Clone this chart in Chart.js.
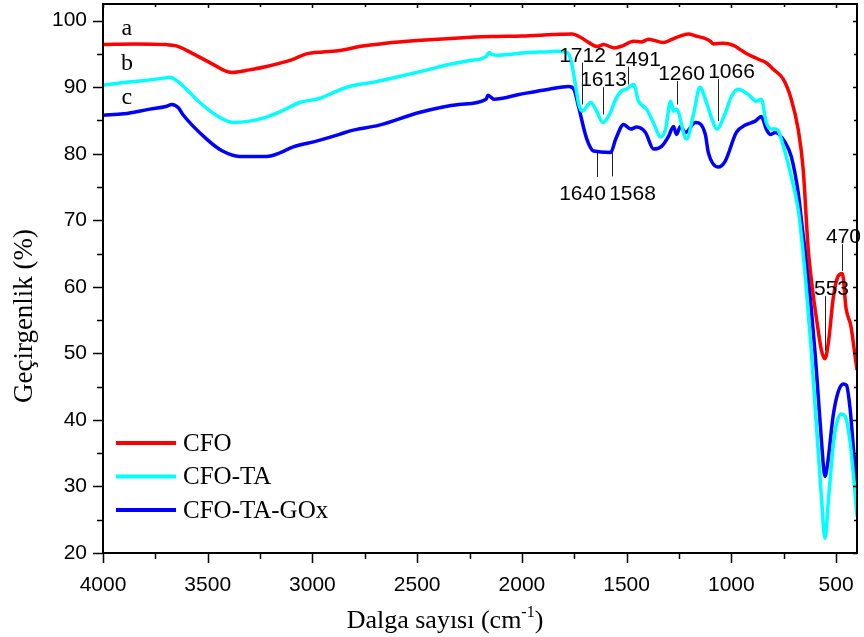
<!DOCTYPE html>
<html>
<head>
<meta charset="utf-8">
<script src="https://cdn.jsdelivr.net/npm/chart.js@4.4.0/dist/chart.umd.min.js"></script>
<style>
  html, body { margin: 0; padding: 0; background: #fff; }
  #wrap { width: 864px; height: 637px; }
</style>
</head>
<body>
<div id="wrap"><canvas id="ftir" width="864" height="637"></canvas></div>
<script>
// series names + colours
const seriesNames = ['CFO', 'CFO-TA', 'CFO-TA-GOx'];
const seriesColors = ['#ff0000', '#00ffff', '#0000ff'];
const curveTags = ['a', 'b', 'c'];

// CFO (a)
const cfoWn = [4000, 3850, 3700, 3650, 3580, 3490, 3386, 3300, 3219, 3100, 3029, 2950, 2870, 2776, 2650, 2500, 2300, 2150, 2000, 1850, 1760, 1720, 1680, 1640, 1610, 1560, 1520, 1467, 1430, 1395, 1324, 1290, 1252, 1205, 1170, 1133, 1100, 1086, 1040, 990, 950, 919, 871, 830, 800, 752, 714, 681, 657, 633, 610, 590, 570, 553, 535, 514, 490, 470, 452, 429, 415, 400];
const cfoT = [96.4, 96.5, 96.4, 96.2, 95.2, 93.7, 92.2, 92.6, 93.1, 94.1, 95.0, 95.3, 95.5, 96.1, 96.6, 97.0, 97.4, 97.6, 97.7, 97.9, 98.0, 97.5, 96.7, 96.1, 96.4, 95.9, 96.2, 96.9, 96.8, 97.2, 96.7, 97.1, 97.6, 98.0, 97.7, 97.4, 96.9, 96.5, 96.6, 96.3, 95.5, 94.9, 94.2, 93.6, 92.7, 91.2, 88.2, 83.7, 77.7, 65.7, 59.0, 54.5, 50.5, 49.2, 52.0, 58.2, 61.6, 62.0, 56.7, 54.1, 51.0, 47.5];

// CFO-TA (b)
const taWn = [4000, 3900, 3800, 3700, 3681, 3640, 3538, 3450, 3381, 3300, 3219, 3140, 3062, 2967, 2900, 2824, 2700, 2586, 2450, 2348, 2250, 2171, 2157, 2140, 2110, 2040, 1967, 1900, 1824, 1780, 1762, 1740, 1729, 1712, 1671, 1645, 1613, 1580, 1552, 1525, 1500, 1467, 1443, 1405, 1370, 1338, 1314, 1290, 1276, 1262, 1214, 1180, 1150, 1120, 1090, 1070, 1030, 1000, 967, 919, 881, 857, 833, 810, 786, 743, 714, 681, 660, 648, 630, 619, 600, 586, 570, 553, 535, 514, 500, 476, 457, 433, 415, 400];
const taT = [90.3, 90.7, 91.0, 91.4, 91.5, 90.8, 87.7, 85.6, 84.7, 84.9, 85.5, 86.5, 87.7, 88.3, 89.2, 90.1, 90.8, 91.6, 92.6, 93.4, 94.0, 94.6, 95.2, 94.9, 94.8, 95.0, 95.2, 95.3, 95.4, 95.1, 93.5, 89.5, 87.5, 86.4, 87.7, 86.5, 84.7, 86.0, 88.2, 89.4, 89.7, 90.4, 87.9, 86.7, 84.5, 82.5, 83.7, 87.9, 86.4, 86.7, 82.2, 86.0, 90.0, 87.8, 85.0, 83.7, 86.0, 88.6, 89.7, 88.9, 87.9, 88.2, 84.7, 83.7, 83.7, 80.2, 76.6, 71.7, 66.0, 62.0, 55.0, 50.7, 42.0, 35.7, 28.5, 22.2, 28.5, 36.0, 39.1, 40.9, 40.6, 36.7, 31.0, 25.5];

// CFO-TA-GOx (c)
const goxWn = [4000, 3900, 3776, 3700, 3671, 3640, 3619, 3505, 3429, 3348, 3219, 3150, 3095, 2981, 2871, 2824, 2681, 2490, 2300, 2171, 2162, 2133, 2014, 1871, 1776, 1752, 1729, 1690, 1657, 1576, 1552, 1514, 1481, 1452, 1410, 1371, 1333, 1300, 1276, 1262, 1243, 1219, 1171, 1124, 1110, 1062, 1029, 976, 933, 886, 857, 833, 814, 790, 743, 714, 681, 660, 640, 619, 600, 586, 570, 553, 540, 514, 490, 465, 450, 433, 415, 400];
const goxT = [85.8, 86.0, 86.7, 87.1, 87.4, 86.9, 85.9, 82.2, 80.4, 79.6, 79.6, 80.2, 81.0, 81.9, 82.9, 83.4, 84.3, 86.2, 87.4, 88.2, 88.8, 88.2, 88.9, 89.7, 90.1, 89.7, 87.0, 82.2, 80.4, 80.2, 82.2, 84.4, 83.7, 84.0, 83.2, 80.7, 81.1, 82.6, 84.1, 82.9, 84.1, 83.2, 84.7, 82.9, 80.2, 78.0, 78.9, 83.2, 84.3, 84.9, 85.6, 83.7, 82.9, 83.2, 81.7, 79.6, 74.2, 68.5, 63.5, 57.0, 50.0, 44.0, 37.0, 31.5, 33.5, 40.6, 44.2, 45.4, 45.2, 41.7, 35.0, 30.5];

// axes
const xTicks = [4000, 3500, 3000, 2500, 2000, 1500, 1000, 500];
const yTicks = [20, 30, 40, 50, 60, 70, 80, 90, 100];

// peak labels: text, wavenumber, leader top / bottom (in %T), text above or below, text shift px
const peaks = [
  { t: '1712', wn: 1712, y1: 93.7, y2: 87.4, pos: 'above', dx: 0 },
  { t: '1613', wn: 1613, y1: 90.0, y2: 85.9, pos: 'above', dx: 0 },
  { t: '1491', wn: 1491, y1: 93.1, y2: 90.4, pos: 'above', dx: 9 },
  { t: '1260', wn: 1260, y1: 90.9, y2: 87.4, pos: 'above', dx: 4 },
  { t: '1066', wn: 1066, y1: 91.2, y2: 84.9, pos: 'above', dx: 13 },
  { t: '1640', wn: 1640, y1: 80.2, y2: 76.5, pos: 'below', dx: -15 },
  { t: '1568', wn: 1568, y1: 80.2, y2: 76.6, pos: 'below', dx: 20 },
  { t: '470', wn: 470, y1: 66.4, y2: 62.4, pos: 'above', dx: 1 },
  { t: '553', wn: 553, y1: 58.6, y2: 50.4, pos: 'above', dx: 6 }
];
const tagWn = 3886;
const tagVal = [97.9, 92.65, 87.4];

function pairs(wn, v) {
  return wn.map((w, i) => ({ x: w, y: v[i] }));
}

// no extra label padding, the plot box is fixed by the axis sizes
function fixBox(s, size) {
  if (s.isHorizontal()) s.height = size; else s.width = size;
  s.paddingTop = 0; s.paddingBottom = 0; s.paddingLeft = 0; s.paddingRight = 0;
}

const decor = {
  id: 'decor',
  afterDatasetsDraw(chart) {
    const { ctx, chartArea: a, scales: { x, y } } = chart;
    ctx.save();
    ctx.strokeStyle = '#000';
    ctx.fillStyle = '#000';

    // frame
    ctx.lineWidth = 2;
    ctx.strokeRect(a.left, a.top, a.right - a.left, a.bottom - a.top);

    // tick marks (major + minor)
    ctx.lineWidth = 1.5;
    ctx.beginPath();
    for (let v = 4000; v >= 400; v -= 250) {
      const px = Math.round(x.getPixelForValue(v)) + 0.5;
      const major = v % 500 === 0;
      ctx.moveTo(px, a.bottom); ctx.lineTo(px, a.bottom + (major ? 10 : 6));
      ctx.moveTo(px, a.top); ctx.lineTo(px, a.top + (major ? 4 : 3));
    }
    for (let v = 20; v <= 100; v += 5) {
      const py = Math.round(y.getPixelForValue(v)) + 0.5;
      const major = v % 10 === 0;
      ctx.moveTo(a.left, py); ctx.lineTo(a.left - (major ? 10 : 6), py);
      ctx.moveTo(a.right, py); ctx.lineTo(a.right - (major ? 4 : 3), py);
    }
    ctx.stroke();

    // peak labels
    ctx.font = '21px "Liberation Sans", Arial, sans-serif';
    ctx.textAlign = 'center';
    ctx.lineWidth = 1;
    ctx.strokeStyle = '#222';
    peaks.forEach(p => {
      const px = Math.round(x.getPixelForValue(p.wn)) + 0.5;
      const p1 = y.getPixelForValue(p.y1);
      const p2 = y.getPixelForValue(p.y2);
      ctx.beginPath(); ctx.moveTo(px, p1); ctx.lineTo(px, p2); ctx.stroke();
      if (p.pos === 'above') {
        ctx.textBaseline = 'alphabetic';
        ctx.fillText(p.t, px + p.dx, p1 - 1);
      } else {
        ctx.textBaseline = 'top';
        ctx.fillText(p.t, px + p.dx, p2 + 7);
      }
    });

    // curve tags a, b, c
    ctx.font = '24px "Liberation Serif", "Times New Roman", serif';
    ctx.textBaseline = 'alphabetic';
    curveTags.forEach((t, i) => {
      ctx.fillText(t, x.getPixelForValue(tagWn), y.getPixelForValue(tagVal[i]));
    });

    // legend
    ctx.font = '25px "Liberation Serif", "Times New Roman", serif';
    ctx.textAlign = 'left';
    ctx.textBaseline = 'middle';
    seriesNames.forEach((n, i) => {
      const ly = 443 + i * 33.5;
      ctx.strokeStyle = seriesColors[i];
      ctx.lineWidth = 4;
      ctx.beginPath(); ctx.moveTo(a.left + 13, ly); ctx.lineTo(a.left + 73, ly); ctx.stroke();
      ctx.fillText(n, a.left + 80, ly + 1);
    });

    // axis titles
    const big = '26px "Liberation Serif", "Times New Roman", serif';
    const sup = '16px "Liberation Serif", serif';
    ctx.font = big;
    ctx.textBaseline = 'alphabetic';
    const main = 'Dalga sayısı (cm';
    const w1 = ctx.measureText(main).width;
    ctx.font = sup;
    const w2 = ctx.measureText('-1').width;
    ctx.font = big;
    const w3 = ctx.measureText(')').width;
    const tx = 445 - (w1 + w2 + w3) / 2;
    const ty = 628;
    ctx.fillText(main, tx, ty);
    ctx.font = sup;
    ctx.fillText('-1', tx + w1, ty - 11);
    ctx.font = big;
    ctx.fillText(')', tx + w1 + w2, ty);

    ctx.font = '27px "Liberation Serif", "Times New Roman", serif';
    ctx.translate(32, 316);
    ctx.rotate(-Math.PI / 2);
    ctx.textAlign = 'center';
    ctx.fillText('Geçirgenlik (%)', 0, 0);
    ctx.restore();
  }
};

new Chart(document.getElementById('ftir'), {
  type: 'line',
  data: {
    datasets: [
      { label: seriesNames[0], data: pairs(cfoWn, cfoT), borderColor: seriesColors[0] },
      { label: seriesNames[1], data: pairs(taWn, taT), borderColor: seriesColors[1] },
      { label: seriesNames[2], data: pairs(goxWn, goxT), borderColor: seriesColors[2] }
    ]
  },
  options: {
    responsive: false,
    animation: false,
    devicePixelRatio: 1,
    layout: { padding: { top: 4, right: 7, left: 0, bottom: 0 } },
    elements: {
      point: { radius: 0 },
      line: { borderWidth: 3.5, tension: 0.4, cubicInterpolationMode: 'monotone', fill: false }
    },
    plugins: { legend: { display: false }, tooltip: { enabled: false } },
    scales: {
      x: {
        type: 'linear',
        reverse: true,
        min: 400,
        max: 4000,
        grid: { display: false, drawTicks: false },
        border: { display: false },
        afterBuildTicks: s => { s.ticks = xTicks.map(v => ({ value: v })); },
        afterFit: s => fixBox(s, 84),
        ticks: {
          padding: 20,
          color: '#000',
          maxRotation: 0,
          callback: v => String(v),
          font: { family: '"Liberation Sans", Arial, sans-serif', size: 21 }
        }
      },
      y: {
        min: 20,
        max: 102.5,
        grid: { display: false, drawTicks: false },
        border: { display: false },
        afterBuildTicks: s => { s.ticks = yTicks.map(v => ({ value: v })); },
        afterFit: s => fixBox(s, 103),
        ticks: {
          padding: 16,
          color: '#000',
          callback: v => String(v),
          font: { family: '"Liberation Sans", Arial, sans-serif', size: 21 }
        }
      }
    }
  },
  plugins: [decor]
});
</script>
</body>
</html>
